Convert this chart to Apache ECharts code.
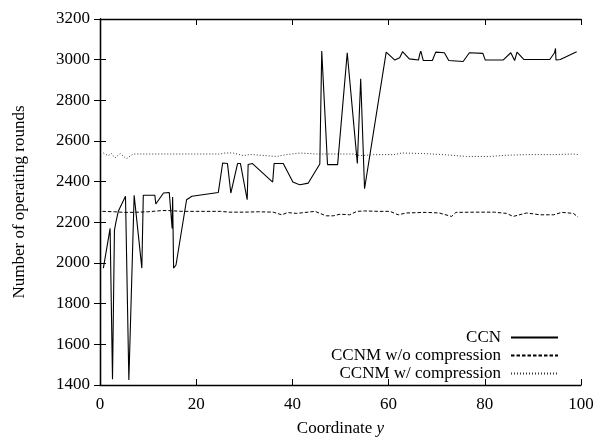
<!DOCTYPE html>
<html>
<head>
<meta charset="utf-8">
<script src="https://cdn.jsdelivr.net/npm/echarts@6/dist/echarts.min.js"></script>
<style>html,body{margin:0;padding:0;background:#fff}#c{width:597px;height:437px}</style>
</head>
<body>
<div id="c"></div>
<script>
var seriesNames = ['CCN', 'CCNM w/o compression', 'CCNM w/ compression'];
var xTicks = [0, 20, 40, 60, 80, 100];
var yTicks = [1400, 1600, 1800, 2000, 2200, 2400, 2600, 2800, 3000, 3200];

var ccnX = [0.7,2.1,2.6,3.0,3.3,3.8,5.3,6.0,7.1,8.7,9.0,11.4,11.6,13.2,14.4,14.8,15.0,15.1,15.3,15.8,18.0,19.1,24.6,25.5,26.5,27.2,27.6,28.6,29.2,30.6,30.8,31.7,35.9,36.2,38.1,40.1,41.1,41.6,43.3,45.7,46.1,47.3,49.4,51.4,53.5,54.2,55.0,59.5,61.3,62.3,62.9,64.3,66.2,66.5,66.7,67.2,69.1,69.8,71.6,72.5,75.5,76.8,79.6,80.1,83.8,85.4,86.2,86.7,88.1,93.5,94.5,94.7,94.8,95.7,99.1];
var ccnY = [1975,2170,1428,2160,2200,2254,2328,1425,2333,1975,2333,2333,2290,2344,2347,2340,2170,2325,1975,1990,2311,2328,2347,2492,2489,2344,2352,2489,2489,2311,2484,2489,2398,2489,2489,2398,2389,2385,2393,2487,3042,2484,2484,3034,2489,2906,2365,3037,2998,3009,3039,3004,2998,3029,3042,2996,2996,3037,3034,2996,2991,3034,3031,2998,2998,3034,2996,3037,3001,3001,3034,3055,2998,3001,3039];

var woX = [0.5,3,5,7,10,13,14,17,20,25,27,30,33,36,37.8,39,40.9,44.7,47,48.5,49.9,51.9,53.4,55,58,60.3,62,63.7,67.8,70.5,73.1,74,78,82,84.5,85.9,88.7,91.5,94.3,96,98.4,99.4];
var woY = [2254,2252,2249,2249,2252,2258,2258,2254,2254,2254,2250,2250,2252,2250,2237,2248,2244,2254,2232,2232,2240,2237,2254,2256,2254,2254,2237,2246,2249,2246,2229,2249,2250,2250,2244,2229,2246,2237,2237,2249,2244,2226];

var wX = [0.7,1.7,2.4,3.1,4.2,5.5,6.9,10,15,20,25,26,27.7,29.8,31.2,36.7,38.8,41.6,45,48.5,49.9,52.7,54.1,56.9,61.1,62.8,67.3,71.4,76.2,81.1,84.5,88.7,94.3,98.4,99.4];
var wY = [2541,2528,2538,2517,2538,2513,2536,2536,2536,2536,2536,2541,2541,2528,2534,2524,2533,2541,2536,2536,2536,2536,2528,2533,2533,2541,2538,2533,2524,2524,2530,2533,2533,2536,2533];

function zip(xs, ys) { return xs.map(function (x, i) { return [x, ys[i]]; }); }

var FONT = '"Liberation Serif", "DejaVu Serif", serif';
var chart = echarts.init(document.getElementById('c'), null, {renderer: 'canvas'});
var axisLineStyle = {color: '#000', width: 1.3};
var tickStyle = {inside: true, length: 6, lineStyle: {color: '#000', width: 1}};
var plainNum = function (v) { return String(v); };
chart.setOption({
  animation: false,
  backgroundColor: '#fff',
  grid: {left: 100, right: 16, top: 19, bottom: 52, containLabel: false, outerBoundsMode: 'none'},
  legend: {
    orient: 'vertical', right: 38, top: 329, padding: 0,
    align: 'right', itemWidth: 47, itemHeight: 14, itemGap: 1,
    itemStyle: {opacity: 0},
    textStyle: {fontFamily: FONT, fontSize: 17, color: '#000', padding: [0, 5, 0, 0]},
    data: seriesNames
  },
  xAxis: [{
    type: 'value', min: xTicks[0], max: xTicks[xTicks.length - 1], interval: 20,
    name: '{n|Coordinate }{i|y}', nameLocation: 'middle', nameGap: 35,
    nameTextStyle: {rich: {n: {fontFamily: FONT, fontSize: 17, color: '#000'}, i: {fontFamily: FONT, fontSize: 17, fontStyle: 'italic', color: '#000'}}},
    axisLine: {show: true, lineStyle: axisLineStyle},
    axisTick: tickStyle,
    axisLabel: {fontFamily: FONT, fontSize: 17, color: '#000', margin: 11, formatter: plainNum},
    splitLine: {show: false}
  }, {
    type: 'value', position: 'top', min: xTicks[0], max: xTicks[xTicks.length - 1], interval: 20,
    axisLine: {show: true, lineStyle: axisLineStyle},
    axisTick: tickStyle, axisLabel: {show: false}, splitLine: {show: false}
  }],
  yAxis: [{
    type: 'value', min: yTicks[0], max: yTicks[yTicks.length - 1], interval: 200,
    name: 'Number of operating rounds', nameLocation: 'middle', nameGap: 72, nameRotate: 90,
    nameTextStyle: {fontFamily: FONT, fontSize: 17, color: '#000'},
    axisLine: {show: true, lineStyle: axisLineStyle},
    axisTick: tickStyle,
    axisLabel: {fontFamily: FONT, fontSize: 17, color: '#000', margin: 10, formatter: plainNum},
    splitLine: {show: false}
  }, {
    type: 'value', position: 'right', min: yTicks[0], max: yTicks[yTicks.length - 1], interval: 200,
    axisLine: {show: true, lineStyle: axisLineStyle},
    axisTick: tickStyle, axisLabel: {show: false}, splitLine: {show: false}
  }],
  series: [{
    name: seriesNames[0], type: 'line', data: zip(ccnX, ccnY), symbol: 'none',
    lineStyle: {color: '#000', width: 1.1, type: 'solid'}, itemStyle: {color: '#000'}, z: 3
  }, {
    name: seriesNames[1], type: 'line', data: zip(woX, woY), symbol: 'none',
    lineStyle: {color: '#000', width: 1, type: [3.5, 2]}, itemStyle: {color: '#000'}
  }, {
    name: seriesNames[2], type: 'line', data: zip(wX, wY), symbol: 'none',
    lineStyle: {color: '#333', width: 1, type: [1, 2]}, itemStyle: {color: '#333'}
  }]
});
</script>
</body>
</html>
